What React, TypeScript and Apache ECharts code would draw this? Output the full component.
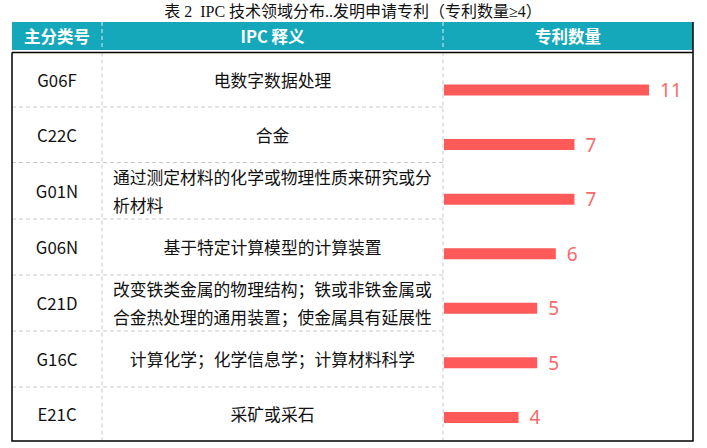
import React, { useEffect, useRef } from "react";
import * as echarts from "echarts";

const titleText = "表 2  IPC 技术领域分布..发明申请专利（专利数量≥4）";
const headers = ["主分类号", "IPC 释义", "专利数量"];
const codes = ["G06F", "C22C", "G01N", "G06N", "C21D", "G16C", "E21C"];
const descs = [
  "电数字数据处理",
  "合金",
  "通过测定材料的化学或物理性质来研究或分\n析材料",
  "基于特定计算模型的计算装置",
  "改变铁类金属的物理结构；铁或非铁金属或\n合金热处理的通用装置；使金属具有延展性",
  "计算化学；化学信息学；计算材料科学",
  "采矿或采石",
];
const counts = [11, 7, 7, 6, 5, 5, 4];

export default function App() {
  const ref = useRef<HTMLDivElement>(null);
  useEffect(() => {
    if (!ref.current) return;
    const chart = echarts.init(ref.current, null, { renderer: "svg" });

    const L = 12, R = 693, HT = 22, HB = 50, BT = 52.5, BB = 441;
    const c1 = 102, c2 = 443;
    const rowB = [BT, 107, 162.5, 219, 275, 331, 387, BB];
    const teal = "#15A8BA";
    const cjk = '"Noto Sans CJK SC", "Noto Sans", sans-serif';
    const fs = 16.8;

    const g: any[] = [];
    g.push({
      type: "text", x: 353, y: 11,
      style: { text: titleText, fill: "#111", font: `16px "Liberation Serif", "Noto Sans CJK SC", serif`, textAlign: "center", textVerticalAlign: "middle" },
    });
    g.push({ type: "rect", shape: { x: L, y: HT, width: R - L, height: HB - HT }, style: { fill: teal } });
    const hc = [(L + c1) / 2, (c1 + c2) / 2, (c2 + R) / 2];
    headers.forEach((h, i) => {
      g.push({
        type: "text", x: hc[i], y: (HT + HB) / 2,
        style: { text: h, fill: "#fff", font: `bold 16.5px ${cjk}`, textAlign: "center", textVerticalAlign: "middle" },
      });
    });
    [c1, c2].forEach((x) => {
      g.push({ type: "line", shape: { x1: x, y1: HT, x2: x, y2: HB }, style: { stroke: "#d6eef2", lineWidth: 1, lineDash: [4, 3] } });
      g.push({ type: "line", shape: { x1: x, y1: BT, x2: x, y2: BB }, style: { stroke: "#c8c8c8", lineWidth: 1, lineDash: [4, 3] } });
    });
    for (let i = 1; i < rowB.length - 1; i++) {
      g.push({ type: "line", shape: { x1: L, y1: rowB[i], x2: c2, y2: rowB[i] }, style: { stroke: "#c8c8c8", lineWidth: 1, lineDash: [4, 3] } });
    }
    g.push({ type: "line", shape: { x1: L, y1: BT, x2: R, y2: BT }, style: { stroke: "#000", lineWidth: 1.5 } });
    g.push({ type: "polyline", shape: { points: [[L, BT], [L, BB], [R, BB], [R, HT]] }, style: { stroke: "#000", lineWidth: 1.5, fill: "none" } });

    codes.forEach((c, i) => {
      const cy = (rowB[i] + rowB[i + 1]) / 2;
      g.push({
        type: "text", x: (L + c1) / 2, y: cy,
        style: { text: c, fill: "#111", font: `${fs}px ${cjk}`, textAlign: "center", textVerticalAlign: "middle" },
      });
      const d = descs[i];
      const lines = d.split("\n");
      if (lines.length > 1) {
        const maxLen = Math.max(...lines.map((l) => l.length));
        g.push({
          type: "text", x: (c1 + c2) / 2 - (maxLen * fs) / 2, y: cy,
          style: { text: d, fill: "#111", font: `${fs}px ${cjk}`, lineHeight: 28, textAlign: "left", textVerticalAlign: "middle" },
        });
      } else {
        g.push({
          type: "text", x: (c1 + c2) / 2, y: cy,
          style: { text: d, fill: "#111", font: `${fs}px ${cjk}`, textAlign: "center", textVerticalAlign: "middle" },
        });
      }
    });

    chart.setOption({
      animation: false,
      grid: { left: 444, top: 62.7, width: 18.64 * 12, height: 382 },
      xAxis: { type: "value", min: 0, max: 12, show: false },
      yAxis: { type: "category", data: codes, inverse: true, show: false },
      series: [
        {
          type: "bar",
          data: counts,
          barWidth: 11,
          itemStyle: { color: "#FF5A5A" },
          label: {
            show: true, position: "right", distance: 11,
            color: "#F76A6C", fontSize: 19, fontFamily: '"Noto Sans", sans-serif',
          },
        },
      ],
      graphic: g,
    });
    return () => chart.dispose();
  }, []);
  return <div ref={ref} style={{ position: "absolute", left: 0, top: 0, width: 707, height: 448, background: "#fff" }} />;
}
